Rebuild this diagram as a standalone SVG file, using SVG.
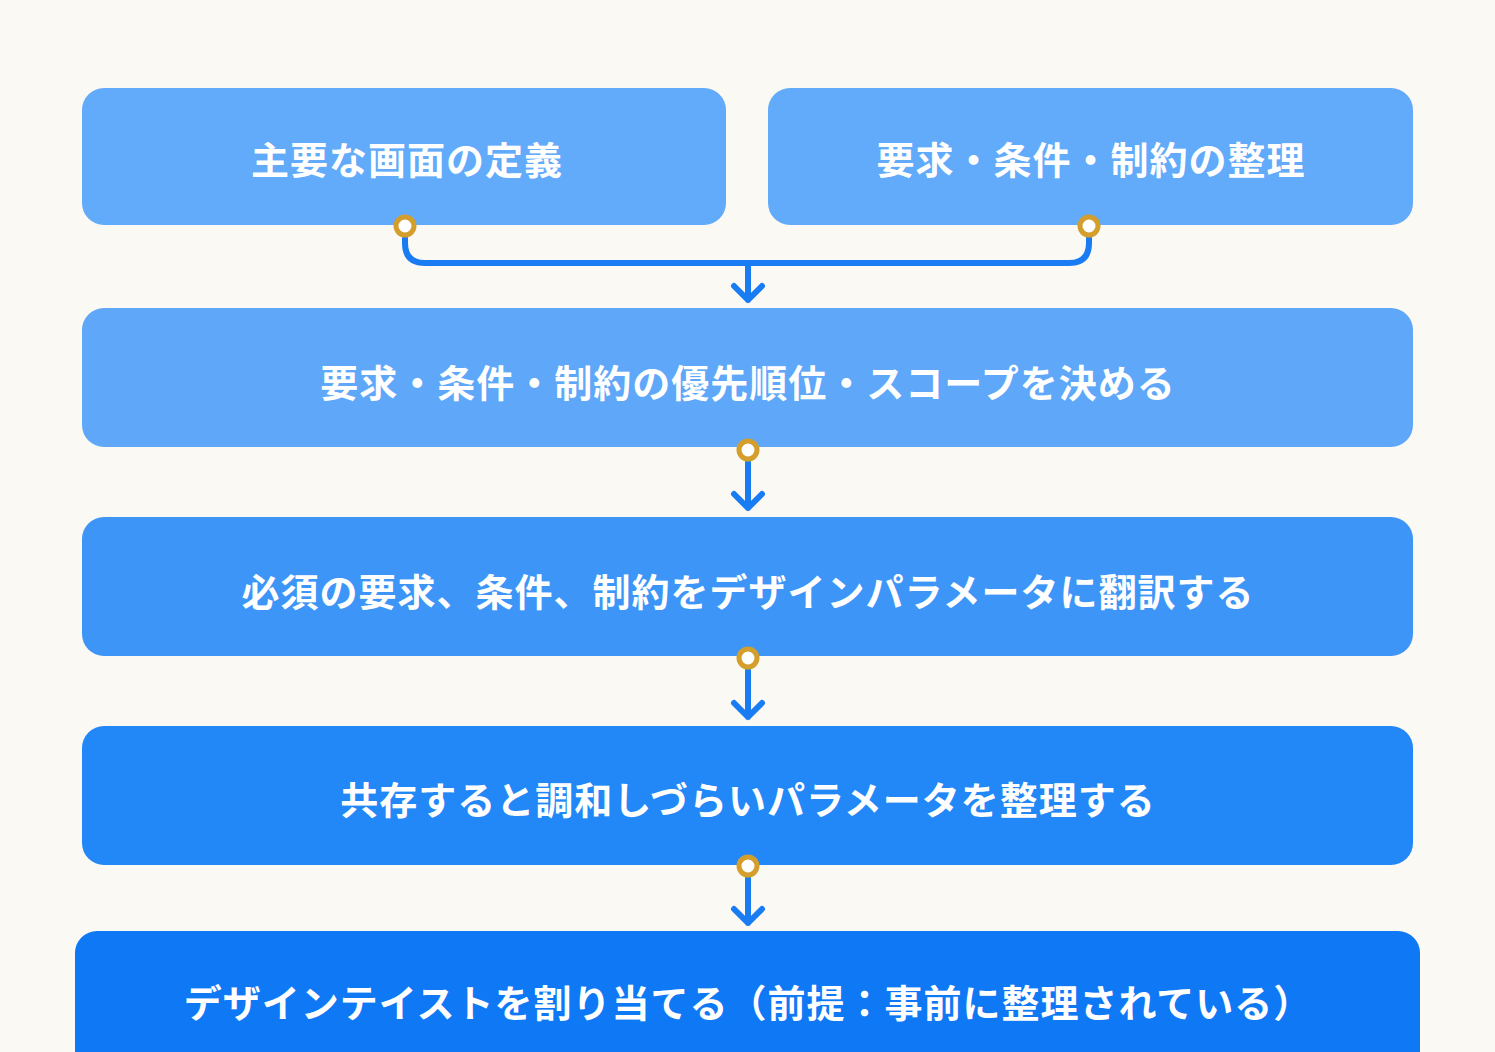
<svg xmlns="http://www.w3.org/2000/svg" width="1495" height="1052" viewBox="0 0 1495 1052">
<style>
text{font-family:"Noto Sans CJK JP","Noto Sans",sans-serif;font-weight:700;font-size:38px;fill:#fff;text-anchor:middle;dominant-baseline:central;letter-spacing:1px}
.c{fill:none;stroke:#1a7cf2;stroke-width:6;stroke-linecap:round;stroke-linejoin:round}
.d{fill:#fff;stroke:#d39e2c;stroke-width:5}
</style>
<rect width="1495" height="1052" fill="#fbf9f4"/>
<g id="n1"><rect x="82" y="88" width="644" height="137" rx="22" fill="#62aafa"/><text x="407" y="157">主要な画面の定義</text></g>
<g id="n2"><rect x="768" y="88" width="645" height="137" rx="22" fill="#62aafa"/><text x="1091" y="157">要求・条件・制約の整理</text></g>
<g id="n3"><rect x="82" y="308" width="1331" height="139" rx="22" fill="#5ea7f9"/><text x="748" y="380">要求・条件・制約の優先順位・スコープを決める</text></g>
<g id="n4"><rect x="82" y="517" width="1331" height="139" rx="22" fill="#3d95f8"/><text x="748" y="589">必須の要求、条件、制約をデザインパラメータに翻訳する</text></g>
<g id="n5"><rect x="82" y="726" width="1331" height="139" rx="22" fill="#2287f7"/><text x="748" y="797">共存すると調和しづらいパラメータを整理する</text></g>
<g id="n6"><rect x="75" y="931" width="1345" height="160" rx="22" fill="#0f78f5"/><text x="748" y="1000">デザインテイストを割り当てる（前提：事前に整理されている）</text></g>
<g id="connectors">
<path class="c" d="M405 230V243Q405 263 425 263H1069Q1089 263 1089 243V230"/>
<path class="c" d="M748 263V300M734 286L748 300L762 286"/>
<path class="c" d="M748 455V508M734 494L748 508L762 494"/>
<path class="c" d="M748 663V717M734 703L748 717L762 703"/>
<path class="c" d="M748 871V923M734 909L748 923L762 909"/>
<circle class="d" cx="405" cy="226" r="9"/>
<circle class="d" cx="1089" cy="226" r="9"/>
<circle class="d" cx="748" cy="450" r="9"/>
<circle class="d" cx="748" cy="658" r="9"/>
<circle class="d" cx="748" cy="866" r="9"/>
</g>
</svg>
